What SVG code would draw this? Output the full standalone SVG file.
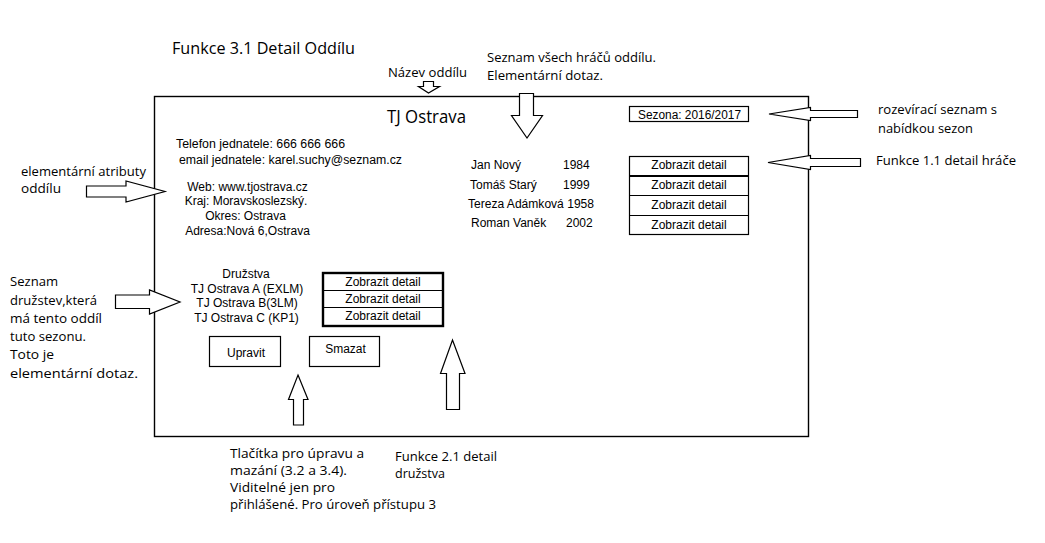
<svg xmlns="http://www.w3.org/2000/svg" width="1045" height="543" viewBox="0 0 1045 543">
<style>
.c{font-family:"Open Sans","Noto Sans","Liberation Sans",sans-serif;font-size:13.5px;fill:#000}
.a{font-family:"Liberation Sans",Arial,sans-serif;font-size:12px;fill:#000}
.m{text-anchor:middle}
.box{fill:#fff;stroke:#000;stroke-width:1.2}
.arr{fill:#fff;stroke:#000;stroke-width:1.2;stroke-linejoin:miter}
</style>
<rect width="1045" height="543" fill="#fff"/>
<g id="title"><text class="c" x="172" y="54" style="font-size:16.5px" textLength="183" lengthAdjust="spacingAndGlyphs">Funkce 3.1 Detail Oddílu</text></g>
<g id="frame"><rect x="154.5" y="96.5" width="654" height="340" fill="none" stroke="#000" stroke-width="1.4"/></g>
<g id="name">
<text class="c" x="388" y="77" textLength="79" lengthAdjust="spacingAndGlyphs">Název oddílu</text>
<text class="c" x="426.5" y="123" style="font-size:17.5px" text-anchor="middle" textLength="79" lengthAdjust="spacingAndGlyphs">TJ Ostrava</text>
</g>
<g id="players-note">
<text class="c" x="487" y="62" textLength="169" lengthAdjust="spacingAndGlyphs">Seznam všech hráčů oddílu.</text>
<text class="c" x="487" y="80" textLength="116" lengthAdjust="spacingAndGlyphs">Elementární dotaz.</text>
</g>
<g id="season">
<rect class="box" x="629.5" y="106.5" width="119" height="15"/>
<text class="a" x="689.5" y="118.5" text-anchor="middle" textLength="103" lengthAdjust="spacingAndGlyphs">Sezona: 2016/2017</text>
</g>
<g id="season-note">
<text class="c" x="878" y="114" textLength="119" lengthAdjust="spacingAndGlyphs">rozevírací seznam s</text>
<text class="c" x="878" y="133" textLength="95" lengthAdjust="spacingAndGlyphs">nabídkou sezon</text>
</g>
<g id="player-note"><text class="c" x="876" y="165" textLength="140" lengthAdjust="spacingAndGlyphs">Funkce 1.1 detail hráče</text></g>
<g id="contact">
<text class="a" x="176" y="148" textLength="169" lengthAdjust="spacingAndGlyphs">Telefon jednatele: 666 666 666</text>
<text class="a" x="179" y="164" textLength="223" lengthAdjust="spacingAndGlyphs">email jednatele: karel.suchy@seznam.cz</text>
<text class="a m" x="247.5" y="191">Web: www.tjostrava.cz</text>
<text class="a m" x="246" y="205">Kraj: Moravskoslezský.</text>
<text class="a m" x="245.5" y="219.5">Okres: Ostrava</text>
<text class="a m" x="247.5" y="234.5">Adresa:Nová 6,Ostrava</text>
</g>
<g id="attr-note">
<text class="c" x="21" y="176" textLength="125" lengthAdjust="spacingAndGlyphs">elementární atributy</text>
<text class="c" x="21" y="193" textLength="40" lengthAdjust="spacingAndGlyphs">oddílu</text>
</g>
<g id="players">
<text class="a" x="471" y="169">Jan Nový</text><text class="a" x="563" y="169">1984</text>
<text class="a" x="470" y="189">Tomáš Starý</text><text class="a" x="563" y="189">1999</text>
<text class="a" x="468" y="208" textLength="126" lengthAdjust="spacingAndGlyphs">Tereza Adámková 1958</text>
<text class="a" x="471" y="227">Roman Vaněk</text><text class="a" x="566" y="227">2002</text>
</g>
<g id="player-buttons">
<rect class="box" x="629.5" y="156.5" width="119" height="78"/>
<line x1="629.5" y1="176" x2="748.5" y2="176" stroke="#000" stroke-width="2.2"/>
<line x1="629.5" y1="195.5" x2="748.5" y2="195.5" stroke="#000" stroke-width="1.2"/>
<line x1="629.5" y1="215.5" x2="748.5" y2="215.5" stroke="#000" stroke-width="1.2"/>
<text class="a m" x="689" y="169">Zobrazit detail</text>
<text class="a m" x="689" y="189">Zobrazit detail</text>
<text class="a m" x="689" y="208.5">Zobrazit detail</text>
<text class="a m" x="689" y="228.5">Zobrazit detail</text>
</g>
<g id="teams-note">
<text class="c" x="10" y="286" textLength="48" lengthAdjust="spacingAndGlyphs">Seznam</text>
<text class="c" x="10" y="304.5" textLength="87" lengthAdjust="spacingAndGlyphs">družstev,která</text>
<text class="c" x="10" y="323" textLength="92" lengthAdjust="spacingAndGlyphs">má tento oddíl</text>
<text class="c" x="10" y="341" textLength="76" lengthAdjust="spacingAndGlyphs">tuto sezonu.</text>
<text class="c" x="10" y="359" textLength="44" lengthAdjust="spacingAndGlyphs">Toto je</text>
<text class="c" x="10" y="378" textLength="128" lengthAdjust="spacingAndGlyphs">elementární dotaz.</text>
</g>
<g id="teams">
<text class="a m" x="246" y="278">Družstva</text>
<text class="a m" x="247" y="293">TJ Ostrava A (EXLM)</text>
<text class="a m" x="247" y="307">TJ Ostrava B(3LM)</text>
<text class="a m" x="246.5" y="322">TJ Ostrava C (KP1)</text>
</g>
<g id="team-buttons">
<rect x="323" y="273" width="120" height="53" fill="#fff" stroke="#000" stroke-width="2.4"/>
<line x1="323" y1="290.5" x2="443" y2="290.5" stroke="#000" stroke-width="1.2"/>
<line x1="323" y1="307.5" x2="443" y2="307.5" stroke="#000" stroke-width="1.2"/>
<text class="a m" x="383" y="286">Zobrazit detail</text>
<text class="a m" x="383" y="303">Zobrazit detail</text>
<text class="a m" x="383" y="320">Zobrazit detail</text>
</g>
<g id="btn-upravit">
<rect class="box" x="209.5" y="336.5" width="71" height="30"/>
<text class="a m" x="246" y="357">Upravit</text>
</g>
<g id="btn-smazat">
<rect class="box" x="309.5" y="336.5" width="70" height="30"/>
<text class="a m" x="345.5" y="353">Smazat</text>
</g>
<g id="buttons-note">
<text class="c" x="230" y="458" textLength="134" lengthAdjust="spacingAndGlyphs">Tlačítka pro úpravu a</text>
<text class="c" x="230" y="475" textLength="117" lengthAdjust="spacingAndGlyphs">mazání (3.2 a 3.4).</text>
<text class="c" x="230" y="492" textLength="105" lengthAdjust="spacingAndGlyphs">Viditelné jen pro</text>
<text class="c" x="230" y="509" textLength="206" lengthAdjust="spacingAndGlyphs">přihlášené. Pro úroveň přístupu 3</text>
</g>
<g id="team-note">
<text class="c" x="395" y="461" textLength="102" lengthAdjust="spacingAndGlyphs">Funkce 2.1 detail</text>
<text class="c" x="395" y="478" textLength="50" lengthAdjust="spacingAndGlyphs">družstva</text>
</g>
<g id="connectors">
<polygon class="arr" points="423.5,81.5 433.5,81.5 433.5,86.5 439.5,86.5 428.5,93 418.5,86.5 423.5,86.5"/>
<polygon class="arr" points="519.5,93.5 533.5,93.5 533.5,115.5 542.5,115.5 527,138 511.5,115.5 519.5,115.5"/>
<polygon class="arr" points="769,114 810.5,107.5 810.5,110.5 857.5,110.5 857.5,117.5 810.5,117.5 810.5,120.5"/>
<polygon class="arr" points="768,162.5 810.5,155.5 810.5,158.5 860.5,158.5 860.5,166.5 810.5,166.5 810.5,169.5"/>
<polygon class="arr" points="86.5,186 126,186 126,181 165,191.5 126,202 126,197 86.5,197"/>
<polygon class="arr" points="115.5,295 149.5,295 149.5,290 180,302 149.5,314 149.5,308.5 115.5,308.5"/>
<polygon class="arr" points="298,375 308,399.5 303.5,399.5 303.5,425 293.5,425 293.5,399.5 288.5,399.5"/>
<polygon class="arr" points="452.5,340 465,373.5 459.5,373.5 459.5,409.5 446.5,409.5 446.5,373.5 440.5,373.5"/>
</g>
</svg>
